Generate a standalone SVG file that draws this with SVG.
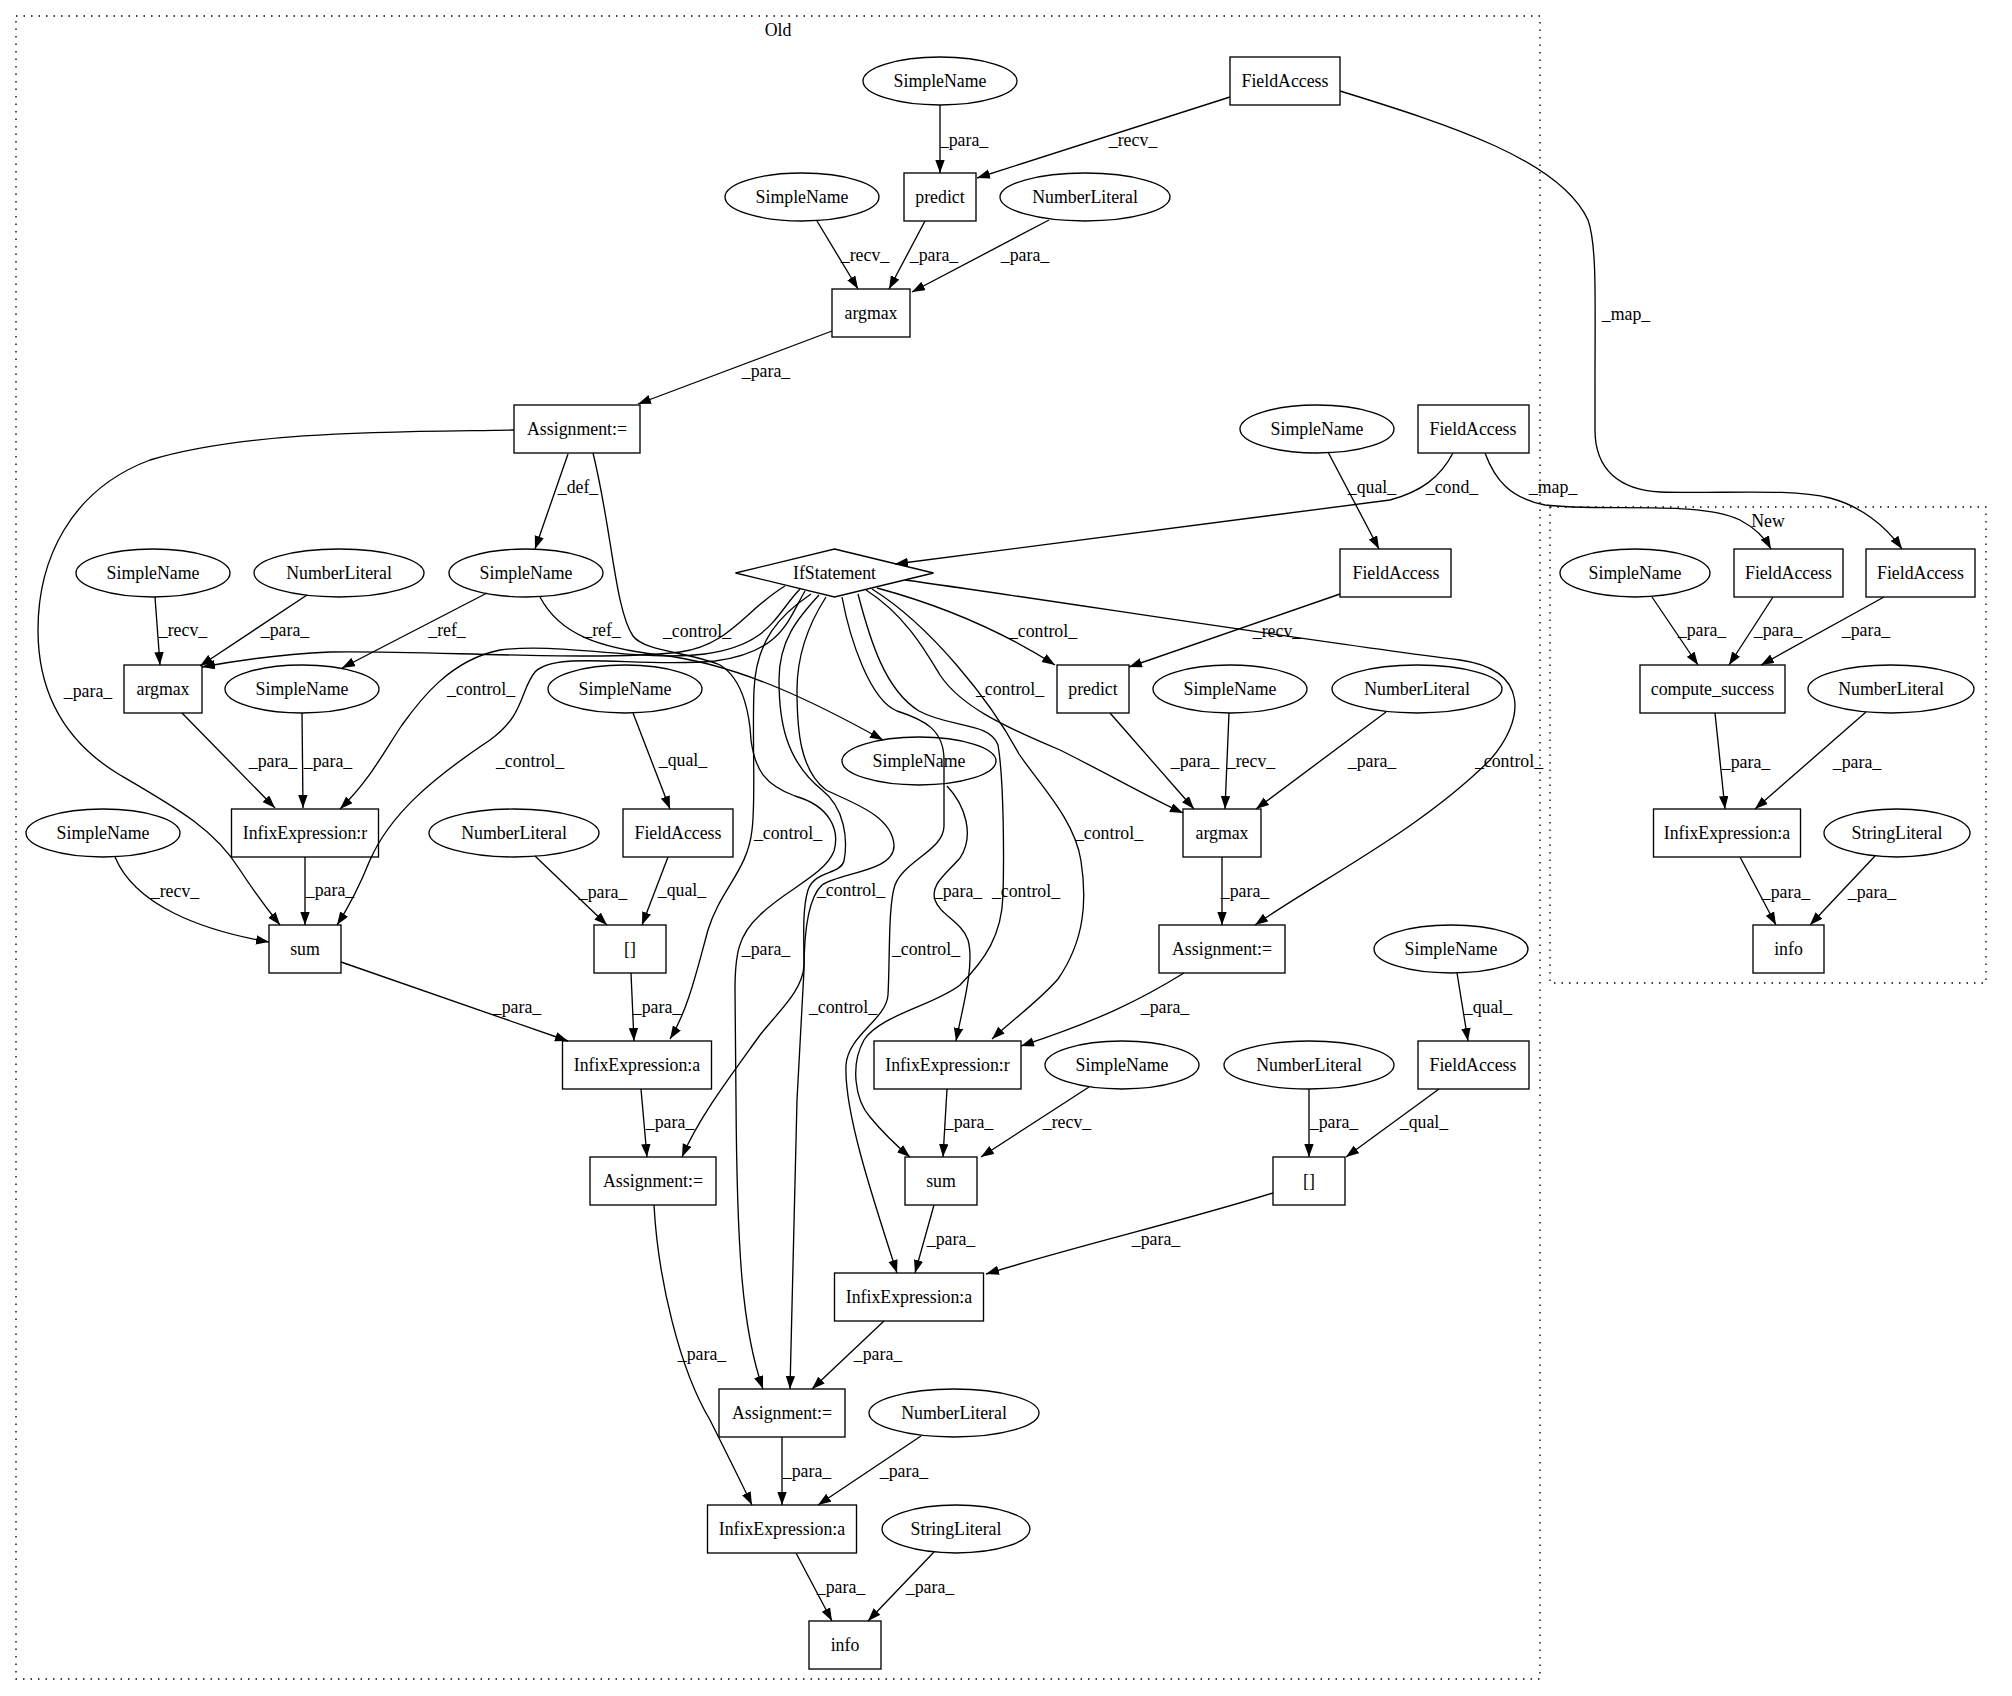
<svg xmlns="http://www.w3.org/2000/svg" width="2012" height="1696" viewBox="0 0 2012 1696" font-family="'Liberation Serif', 'Times New Roman', serif">
<defs>
<marker id="ah" markerWidth="14" markerHeight="10" refX="13" refY="4.7" orient="auto" markerUnits="userSpaceOnUse"><path d="M0,0 L13,4.7 L0,9.4 z" fill="#000"/></marker>
<style>
text{font-family:'Liberation Serif','Times New Roman',serif;font-size:17.8px;fill:#000;text-anchor:middle}
.nd rect,.nd ellipse,.nd polygon{fill:none;stroke:#000;stroke-width:1.33}
.cl{fill:none;stroke:#000;stroke-width:1.33;stroke-dasharray:1.5,6}
#edges path{fill:none;stroke:#000;stroke-width:1.33;marker-end:url(#ah)}
</style>
</defs>
<rect x="0" y="0" width="2012" height="1696" fill="#fff"/>
<g id="clusters">
<rect class="cl" x="16" y="16" width="1524" height="1663"/>
<text x="778" y="36">Old</text>
<rect class="cl" x="1550" y="507" width="436" height="476"/>
<text x="1768" y="527">New</text>
</g>
<g id="edges">
<path d="M940,105 L940,173"/><text x="964" y="146">_para_</text>
<path d="M1230,97 L977,178"/><text x="1133" y="146">_recv_</text>
<path d="M1340,91 C1450,125 1560,160 1588,220 C1597,245 1595,300 1595,380 L1595,430 C1595,470 1620,490 1660,492 C1720,494 1790,488 1830,498 C1860,506 1885,525 1902,549"/><text x="1626" y="320">_map_</text>
<path d="M817,221 L858,289"/><text x="865" y="261">_recv_</text>
<path d="M925,221 L889,289"/><text x="934" y="261">_para_</text>
<path d="M1049,220 L912,292"/><text x="1025" y="261">_para_</text>
<path d="M832,331 L638,404"/><text x="766" y="377">_para_</text>
<path d="M568,454 L535,549"/><text x="578" y="493">_def_</text>
<path d="M514,430 C400,432 250,430 150,460 C70,490 38,560 38,630 C38,700 70,745 120,775 C180,810 215,830 240,870 C255,893 268,910 280,925"/><text x="88" y="697">_para_</text>
<path d="M487,593 L342,668"/><text x="447" y="636">_ref_</text>
<path d="M540,597 C560,635 600,648 660,655 C740,664 820,705 883,740"/><text x="602" y="636">_ref_</text>
<path d="M593,453 C612,530 615,610 633,636 C645,652 690,652 720,665 C745,680 750,720 751,740 C755,770 765,785 795,796 C830,806 840,830 834,851 C825,875 785,890 760,915 C738,935 735,955 735,990 L736,1100 C737,1250 742,1330 763,1389"/><text x="766" y="955">_para_</text>
<path d="M947,786 C965,805 975,835 960,858 C945,875 930,885 935,900 C940,915 962,922 968,940 C975,965 962,1010 956,1041"/><text x="958" y="897">_para_</text>
<path d="M302,713 L303,808"/><text x="328" y="767">_para_</text>
<path d="M182,713 L275,808"/><text x="273" y="767">_para_</text>
<path d="M155,597 L160,665"/><text x="183" y="636">_recv_</text>
<path d="M307,595 L200,666"/><text x="285" y="636">_para_</text>
<path d="M115,857 C135,905 200,930 269,942"/><text x="175" y="897">_recv_</text>
<path d="M305,857 L305,925"/><text x="330" y="896">_para_</text>
<path d="M535,856 L607,925"/><text x="603" y="898">_para_</text>
<path d="M633,713 L670,809"/><text x="683" y="766">_qual_</text>
<path d="M668,857 L642,925"/><text x="682" y="896">_qual_</text>
<path d="M341,962 L568,1041"/><text x="517" y="1013">_para_</text>
<path d="M631,973 L634,1041"/><text x="657" y="1013">_para_</text>
<path d="M641,1089 L647,1157"/><text x="670" y="1128">_para_</text>
<path d="M654,1205 C658,1280 680,1370 710,1420 C725,1450 740,1480 752,1505"/><text x="702" y="1360">_para_</text>
<path d="M782,1437 L782,1505"/><text x="807" y="1477">_para_</text>
<path d="M921,1436 L818,1505"/><text x="904" y="1477">_para_</text>
<path d="M796,1553 L832,1621"/><text x="841" y="1593">_para_</text>
<path d="M934,1552 L868,1621"/><text x="930" y="1593">_para_</text>
<path d="M1184,973 C1140,1000 1100,1020 1021,1046"/><text x="1165" y="1013">_para_</text>
<path d="M947,1089 L943,1157"/><text x="969" y="1128">_para_</text>
<path d="M1089,1087 L981,1157"/><text x="1067" y="1128">_recv_</text>
<path d="M1309,1089 L1309,1157"/><text x="1334" y="1128">_para_</text>
<path d="M1439,1089 L1346,1157"/><text x="1424" y="1128">_qual_</text>
<path d="M1457,973 L1468,1041"/><text x="1488" y="1013">_qual_</text>
<path d="M934,1205 L915,1273"/><text x="951" y="1245">_para_</text>
<path d="M1273,1193 C1180,1222 1080,1245 986,1274"/><text x="1156" y="1245">_para_</text>
<path d="M884,1321 L812,1389"/><text x="878" y="1360">_para_</text>
<path d="M1110,713 L1194,809"/><text x="1195" y="767">_para_</text>
<path d="M1229,713 L1225,809"/><text x="1251" y="767">_recv_</text>
<path d="M1386,712 L1256,809"/><text x="1372" y="767">_para_</text>
<path d="M1222,857 L1222,925"/><text x="1245" y="897">_para_</text>
<path d="M1340,594 L1129,667"/><text x="1277" y="637">_recv_</text>
<path d="M1328,452 L1379,549"/><text x="1372" y="493">_qual_</text>
<path d="M1453,453 C1440,478 1420,492 1390,500 L895,564"/><text x="1452" y="493">_cond_</text>
<path d="M1485,453 C1495,480 1510,498 1545,505 C1600,512 1700,500 1740,520 C1755,528 1765,538 1771,549"/><text x="1553" y="493">_map_</text>
<path d="M785,586 C745,610 730,645 680,652 C600,662 420,650 330,652 C285,654 240,660 202,667"/><text x="697" y="637">_control_</text>
<path d="M800,589 C775,615 770,645 705,654 C640,662 560,642 500,650 C450,660 420,700 402,725 C385,750 370,780 340,809"/><text x="481" y="695">_control_</text>
<path d="M805,591 C788,620 782,652 715,661 C640,668 555,650 535,672 C520,690 525,715 490,740 C430,780 390,815 370,860 C360,885 350,905 337,925"/><text x="530" y="767">_control_</text>
<path d="M811,594 C780,615 756,640 754,690 C752,740 756,800 752,830 C748,870 720,890 708,930 C697,970 688,1010 670,1039"/><text x="788" y="839">_control_</text>
<path d="M819,595 C798,618 779,640 779,680 C779,720 785,760 822,790 C845,808 848,840 844,861 C840,875 815,870 808,890 C802,910 804,940 804,965 C803,990 780,1010 760,1035 C735,1070 700,1115 682,1157"/><text x="851" y="896">_control_</text>
<path d="M826,597 C808,625 797,655 797,690 C797,730 800,770 826,790 C850,802 892,815 894,845 C895,872 840,872 822,885 C806,900 804,940 804,970 L797,1100 C794,1200 793,1300 790,1389"/><text x="843" y="1013">_control_</text>
<path d="M842,597 C850,640 870,700 897,711 C925,720 944,730 944,760 L944,826 C944,850 905,860 895,885 C888,905 890,960 888,995 C886,1020 848,1035 846,1065 C844,1110 870,1190 897,1273"/><text x="926" y="955">_control_</text>
<path d="M858,594 C870,640 885,690 919,711 C950,728 990,722 998,745 C1004,780 1004,860 1003,895 C1002,935 985,960 960,985 C935,1005 880,1015 864,1040 C850,1065 855,1100 870,1117 C885,1135 898,1147 910,1157"/><text x="1026" y="897">_control_</text>
<path d="M877,588 C940,605 1000,630 1055,665"/><text x="1043" y="637">_control_</text>
<path d="M866,590 C905,615 925,650 940,675 C960,705 1000,725 1060,750 C1110,775 1150,798 1183,813"/><text x="1010" y="695">_control_</text>
<path d="M905,580 C1050,600 1300,640 1460,660 C1530,670 1525,720 1490,760 C1420,830 1320,880 1255,925"/><text x="1509" y="767">_control_</text>
<path d="M872,589 C930,625 990,700 1019,754 C1040,785 1075,820 1081,861 C1087,900 1085,940 1058,979 C1040,1000 1010,1022 992,1039"/><text x="1109" y="839">_control_</text>
<path d="M1652,597 L1698,665"/><text x="1702" y="636">_para_</text>
<path d="M1773,597 L1729,665"/><text x="1778" y="636">_para_</text>
<path d="M1884,597 L1761,665"/><text x="1866" y="636">_para_</text>
<path d="M1715,713 L1725,809"/><text x="1746" y="768">_para_</text>
<path d="M1866,712 L1755,809"/><text x="1857" y="768">_para_</text>
<path d="M1740,857 L1776,925"/><text x="1786" y="898">_para_</text>
<path d="M1875,856 L1810,925"/><text x="1872" y="898">_para_</text>
</g>
<g id="n1" class="nd"><ellipse cx="940" cy="81" rx="77" ry="24"/><text x="940" y="87">SimpleName</text></g>
<g id="n2" class="nd"><rect x="1230" y="57" width="110" height="48"/><text x="1285" y="87">FieldAccess</text></g>
<g id="n3" class="nd"><rect x="904" y="173" width="72" height="48"/><text x="940" y="203">predict</text></g>
<g id="n4" class="nd"><ellipse cx="802" cy="197" rx="77" ry="24"/><text x="802" y="203">SimpleName</text></g>
<g id="n5" class="nd"><ellipse cx="1085" cy="197" rx="85" ry="24"/><text x="1085" y="203">NumberLiteral</text></g>
<g id="n6" class="nd"><rect x="832" y="289" width="78" height="48"/><text x="871" y="319">argmax</text></g>
<g id="n7" class="nd"><rect x="514" y="405" width="126" height="48"/><text x="577" y="435">Assignment:=</text></g>
<g id="n8" class="nd"><ellipse cx="1317" cy="429" rx="77" ry="24"/><text x="1317" y="435">SimpleName</text></g>
<g id="n9" class="nd"><rect x="1418" y="405" width="111" height="48"/><text x="1473" y="435">FieldAccess</text></g>
<g id="n10" class="nd"><polygon points="834.5,549 933.5,573 834.5,597 735.5,573"/><text x="834.5" y="579">IfStatement</text></g>
<g id="n11" class="nd"><rect x="1340" y="549" width="111" height="48"/><text x="1396" y="579">FieldAccess</text></g>
<g id="n12" class="nd"><ellipse cx="526" cy="573" rx="77" ry="24"/><text x="526" y="579">SimpleName</text></g>
<g id="n13" class="nd"><ellipse cx="153" cy="573" rx="77" ry="24"/><text x="153" y="579">SimpleName</text></g>
<g id="n14" class="nd"><ellipse cx="339" cy="573" rx="85" ry="24"/><text x="339" y="579">NumberLiteral</text></g>
<g id="n15" class="nd"><rect x="124" y="665" width="78" height="48"/><text x="163" y="695">argmax</text></g>
<g id="n16" class="nd"><ellipse cx="302" cy="689" rx="77" ry="24"/><text x="302" y="695">SimpleName</text></g>
<g id="n17" class="nd"><ellipse cx="625" cy="689" rx="77" ry="24"/><text x="625" y="695">SimpleName</text></g>
<g id="n18" class="nd"><rect x="1057" y="665" width="72" height="48"/><text x="1093" y="695">predict</text></g>
<g id="n19" class="nd"><ellipse cx="1230" cy="689" rx="77" ry="24"/><text x="1230" y="695">SimpleName</text></g>
<g id="n20" class="nd"><ellipse cx="1417" cy="689" rx="85" ry="24"/><text x="1417" y="695">NumberLiteral</text></g>
<g id="n21" class="nd"><ellipse cx="919" cy="761" rx="77" ry="24"/><text x="919" y="767">SimpleName</text></g>
<g id="n22" class="nd"><ellipse cx="103" cy="833" rx="77" ry="24"/><text x="103" y="839">SimpleName</text></g>
<g id="n23" class="nd"><rect x="231.5" y="809" width="147" height="48"/><text x="305" y="839">InfixExpression:r</text></g>
<g id="n24" class="nd"><ellipse cx="514" cy="833" rx="85" ry="24"/><text x="514" y="839">NumberLiteral</text></g>
<g id="n25" class="nd"><rect x="623" y="809" width="110" height="48"/><text x="678" y="839">FieldAccess</text></g>
<g id="n26" class="nd"><rect x="1183" y="809" width="78" height="48"/><text x="1222" y="839">argmax</text></g>
<g id="n27" class="nd"><rect x="269" y="925" width="72" height="48"/><text x="305" y="955">sum</text></g>
<g id="n28" class="nd"><rect x="594" y="925" width="72" height="48"/><text x="630" y="955">[]</text></g>
<g id="n29" class="nd"><rect x="1159" y="925" width="126" height="48"/><text x="1222" y="955">Assignment:=</text></g>
<g id="n30" class="nd"><ellipse cx="1451" cy="949" rx="77" ry="24"/><text x="1451" y="955">SimpleName</text></g>
<g id="n31" class="nd"><rect x="562.5" y="1041" width="149" height="48"/><text x="637" y="1071">InfixExpression:a</text></g>
<g id="n32" class="nd"><rect x="874" y="1041" width="147" height="48"/><text x="947.5" y="1071">InfixExpression:r</text></g>
<g id="n33" class="nd"><ellipse cx="1122" cy="1065" rx="77" ry="24"/><text x="1122" y="1071">SimpleName</text></g>
<g id="n34" class="nd"><ellipse cx="1309" cy="1065" rx="85" ry="24"/><text x="1309" y="1071">NumberLiteral</text></g>
<g id="n35" class="nd"><rect x="1418" y="1041" width="111" height="48"/><text x="1473" y="1071">FieldAccess</text></g>
<g id="n36" class="nd"><rect x="590" y="1157" width="126" height="48"/><text x="653" y="1187">Assignment:=</text></g>
<g id="n37" class="nd"><rect x="905" y="1157" width="72" height="48"/><text x="941" y="1187">sum</text></g>
<g id="n38" class="nd"><rect x="1273" y="1157" width="72" height="48"/><text x="1309" y="1187">[]</text></g>
<g id="n39" class="nd"><rect x="834.5" y="1273" width="149" height="48"/><text x="909" y="1303">InfixExpression:a</text></g>
<g id="n40" class="nd"><rect x="719" y="1389" width="126" height="48"/><text x="782" y="1419">Assignment:=</text></g>
<g id="n41" class="nd"><ellipse cx="954" cy="1413" rx="85" ry="24"/><text x="954" y="1419">NumberLiteral</text></g>
<g id="n42" class="nd"><rect x="707.5" y="1505" width="149" height="48"/><text x="782" y="1535">InfixExpression:a</text></g>
<g id="n43" class="nd"><ellipse cx="956" cy="1529" rx="74" ry="24"/><text x="956" y="1535">StringLiteral</text></g>
<g id="n44" class="nd"><rect x="809" y="1621" width="72" height="48"/><text x="845" y="1651">info</text></g>
<g id="n45" class="nd"><ellipse cx="1635" cy="573" rx="75" ry="24"/><text x="1635" y="579">SimpleName</text></g>
<g id="n46" class="nd"><rect x="1734" y="549" width="109" height="48"/><text x="1788.5" y="579">FieldAccess</text></g>
<g id="n47" class="nd"><rect x="1866" y="549" width="109" height="48"/><text x="1920.5" y="579">FieldAccess</text></g>
<g id="n48" class="nd"><rect x="1640" y="665" width="145" height="48"/><text x="1712.5" y="695">compute_success</text></g>
<g id="n49" class="nd"><ellipse cx="1891" cy="689" rx="83" ry="24"/><text x="1891" y="695">NumberLiteral</text></g>
<g id="n50" class="nd"><rect x="1653.5" y="809" width="147" height="48"/><text x="1727" y="839">InfixExpression:a</text></g>
<g id="n51" class="nd"><ellipse cx="1897" cy="833" rx="73" ry="24"/><text x="1897" y="839">StringLiteral</text></g>
<g id="n52" class="nd"><rect x="1753" y="925" width="71" height="48"/><text x="1788.5" y="955">info</text></g>
</svg>
